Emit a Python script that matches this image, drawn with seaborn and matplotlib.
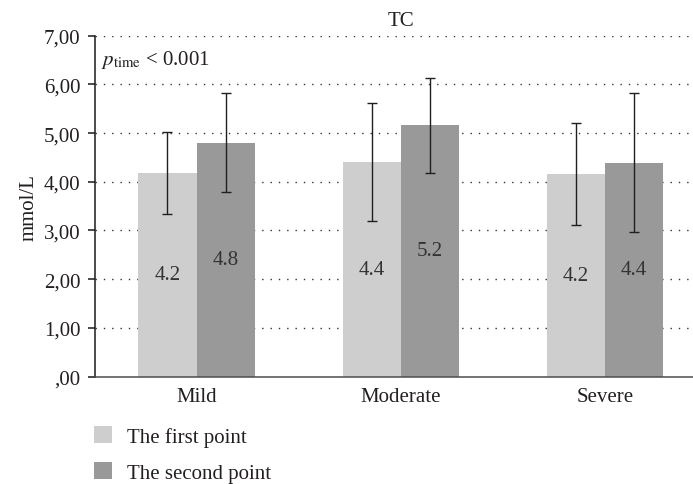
import matplotlib
matplotlib.use("Agg")
import matplotlib.pyplot as plt
from matplotlib.patches import Patch
from matplotlib.ticker import FixedLocator, FixedFormatter
import pandas as pd
import seaborn as sns

# Total cholesterol by severity at two time points (mean and SD, mmol/L)
categories = ["Mild", "Moderate", "Severe"]
timepoints = ["The first point", "The second point"]
first_point = [4.18, 4.41, 4.16]
second_point = [4.80, 5.16, 4.39]
first_sd = [0.85, 1.21, 1.04]
second_sd = [1.02, 0.98, 1.43]
y_ticks = [0, 1, 2, 3, 4, 5, 6, 7]
y_tick_labels = [",00", "1,00", "2,00", "3,00", "4,00", "5,00", "6,00", "7,00"]

light_grey = "#cdcecd"
dark_grey = "#999999"
text_color = "#231f20"
fs = 15

df = pd.DataFrame({
    "category": categories * 2,
    "timepoint": [timepoints[0]] * 3 + [timepoints[1]] * 3,
    "value": first_point + second_point,
})

sns.set_style("white")
plt.rcParams["font.family"] = ["Liberation Serif", "DejaVu Serif"]
plt.rcParams["mathtext.fontset"] = "stix"
plt.rcParams["text.color"] = text_color

fig = plt.figure(figsize=(6.93, 4.85), dpi=100)
ax = fig.add_axes([0.1364, 0.2216, 1.020 - 0.1364, 0.9243 - 0.2216])

sns.barplot(
    data=df, x="category", y="value", hue="timepoint",
    order=categories, hue_order=timepoints,
    palette=[light_grey, dark_grey], saturation=1,
    width=0.57, errorbar=None, legend=False, ax=ax, zorder=2,
    linewidth=0, edgecolor="none",
)

# SD whiskers and value labels on each bar
for container, sds in zip(ax.containers, [first_sd, second_sd]):
    for bar, sd in zip(container, sds):
        cx = bar.get_x() + bar.get_width() / 2
        ax.errorbar(cx, bar.get_height(), yerr=sd, fmt="none",
                    ecolor="#1f1f1f", elinewidth=1.0, capsize=3.6,
                    capthick=1.0, zorder=3)
    ax.bar_label(container, labels=[f"{b.get_height():.1f}" for b in container],
                 label_type="center", fontsize=fs, color="#333333")

ax.set_xlim(-0.5, 2.5)
ax.set_ylim(0, 7)
ax.yaxis.set_major_locator(FixedLocator(y_ticks))
ax.yaxis.set_major_formatter(FixedFormatter(y_tick_labels))

# dotted horizontal reference lines
for y in y_ticks[1:]:
    ax.axhline(y, color="#333333", lw=1.0, ls=(0, (1, 5)), zorder=1)

for side in ["top", "right"]:
    ax.spines[side].set_visible(False)
ax.spines["left"].set_color("#1a1a1a")
ax.spines["left"].set_linewidth(1.1)
ax.spines["bottom"].set_color("#4d4d4d")
ax.spines["bottom"].set_linewidth(1.1)

ax.tick_params(axis="y", left=True, length=5, width=1.1, color="#1a1a1a",
               labelsize=fs, labelcolor=text_color, pad=5)
ax.tick_params(axis="x", bottom=False, labelsize=fs, labelcolor=text_color, pad=4)

ax.set_xlabel("")
ax.set_ylabel("mmol/L", fontsize=fs, color=text_color, labelpad=4)
ax.set_title("TC", fontsize=fs, color=text_color, pad=8)

ax.text(0.011, 0.965, r"$p_{\mathrm{time}}$ < 0.001", transform=ax.transAxes,
        fontsize=fs, va="top", ha="left", color=text_color)

handles = [Patch(facecolor=light_grey, edgecolor="none"),
           Patch(facecolor=dark_grey, edgecolor="none")]
fig.legend(handles, timepoints, loc="upper left",
           bbox_to_anchor=(0.1357, 1 - 427 / 485), frameon=False,
           fontsize=fs, handlelength=0.85, handleheight=0.85,
           handletextpad=0.75, labelspacing=0.75, borderpad=0, borderaxespad=0)

fig.savefig("out.png", dpi=100)
